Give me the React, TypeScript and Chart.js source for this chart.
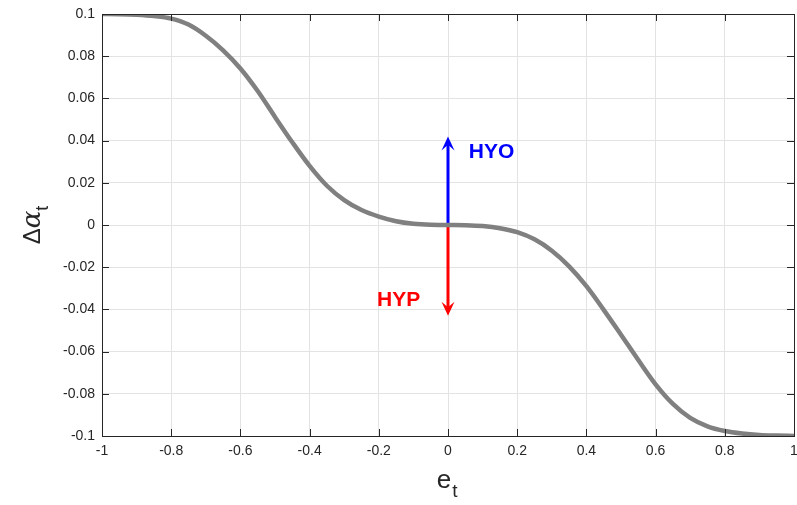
import React, { useEffect, useRef } from "react";
import { Chart, registerables } from "chart.js";

Chart.register(...registerables);

const eValues = [
  -1, -0.95, -0.9, -0.85, -0.8, -0.75, -0.7, -0.65, -0.6, -0.55, -0.5, -0.45, -0.4, -0.35, -0.3, -0.25, -0.2, -0.15, -0.1, -0.05,
  0, 0.05, 0.1, 0.15, 0.2, 0.25, 0.3, 0.35, 0.4, 0.45, 0.5, 0.55, 0.6, 0.65, 0.7, 0.75, 0.8, 0.85, 0.9, 0.95, 1,
];
const deltaAlpha = [
  0.1, 0.0999, 0.0996, 0.099, 0.0978, 0.095, 0.0897, 0.0828, 0.0742, 0.0635, 0.0512, 0.0392, 0.028, 0.0186, 0.0118, 0.0071, 0.004, 0.0018, 0.0006, 0.0001,
  0, -0.0001, -0.0005, -0.0015, -0.0034, -0.0068, -0.0122, -0.0196, -0.029, -0.0402, -0.052, -0.064, -0.0755, -0.0848, -0.0914, -0.0954, -0.0976, -0.0988, -0.0995, -0.0998, -0.1,
];

const xTicks = [-1, -0.8, -0.6, -0.4, -0.2, 0, 0.2, 0.4, 0.6, 0.8, 1];
const xTickLabels = ["-1", "-0.8", "-0.6", "-0.4", "-0.2", "0", "0.2", "0.4", "0.6", "0.8", "1"];
const yTicks = [-0.1, -0.08, -0.06, -0.04, -0.02, 0, 0.02, 0.04, 0.06, 0.08, 0.1];
const yTickLabels = ["-0.1", "-0.08", "-0.06", "-0.04", "-0.02", "0", "0.02", "0.04", "0.06", "0.08", "0.1"];

const hyoArrow = { x: 0, from: 0, to: 0.042 };
const hypArrow = { x: 0, from: 0, to: -0.043 };
const hyoLabel = { text: "HYO", x: 0.06, y: 0.0345 };
const hypLabel = { text: "HYP", x: -0.205, y: -0.0355 };

const TXT = "#262626";
const FONT = "'Liberation Sans', Arial, Helvetica, sans-serif";

function lbl(vals: number[], labels: string[], v: number) {
  const i = vals.findIndex((t) => Math.abs(t - v) < 1e-9);
  return i >= 0 ? labels[i] : "";
}

const decorPlugin = {
  id: "decor",
  afterDatasetsDraw(chart: any) {
    const { ctx, chartArea: a, scales } = chart;
    const xs = scales.x;
    const ys = scales.y;
    ctx.save();
    ctx.strokeStyle = TXT;
    ctx.lineWidth = 1;
    ctx.strokeRect(Math.round(a.left) + 0.5, Math.round(a.top) + 0.5, Math.round(a.right - a.left), Math.round(a.bottom - a.top));
    const tl = 7;
    ctx.beginPath();
    xTicks.forEach((t) => {
      const px = Math.round(xs.getPixelForValue(t)) + 0.5;
      ctx.moveTo(px, a.bottom);
      ctx.lineTo(px, a.bottom - tl);
      ctx.moveTo(px, a.top);
      ctx.lineTo(px, a.top + tl);
    });
    yTicks.forEach((t) => {
      const py = Math.round(ys.getPixelForValue(t)) + 0.5;
      ctx.moveTo(a.left, py);
      ctx.lineTo(a.left + tl, py);
      ctx.moveTo(a.right, py);
      ctx.lineTo(a.right - tl, py);
    });
    ctx.stroke();

    const head = (arrow: any, color: string) => {
      const px = xs.getPixelForValue(arrow.x);
      const tipY = ys.getPixelForValue(arrow.to);
      const dir = arrow.to > arrow.from ? -1 : 1;
      const len = 14;
      const hw = 6.5;
      ctx.fillStyle = color;
      ctx.beginPath();
      ctx.moveTo(px, tipY);
      ctx.lineTo(px - hw, tipY - dir * len);
      ctx.lineTo(px, tipY - dir * len * 0.6);
      ctx.lineTo(px + hw, tipY - dir * len);
      ctx.closePath();
      ctx.fill();
    };
    head(hyoArrow, "#0000ff");
    head(hypArrow, "#ff0000");

    ctx.font = `bold 21px ${FONT}`;
    ctx.textBaseline = "middle";
    ctx.textAlign = "left";
    ctx.fillStyle = "#0000ff";
    ctx.fillText(hyoLabel.text, xs.getPixelForValue(hyoLabel.x), ys.getPixelForValue(hyoLabel.y));
    ctx.fillStyle = "#ff0000";
    ctx.fillText(hypLabel.text, xs.getPixelForValue(hypLabel.x), ys.getPixelForValue(hypLabel.y));

    ctx.fillStyle = TXT;
    ctx.textBaseline = "alphabetic";
    const cx = (a.left + a.right) / 2;
    ctx.font = `26px ${FONT}`;
    ctx.textAlign = "left";
    const eW = ctx.measureText("e").width;
    ctx.fillText("e", cx - eW / 2 - 4, 488);
    ctx.font = `19px ${FONT}`;
    ctx.fillText("t", cx + eW / 2 - 3, 497);

    ctx.save();
    ctx.translate(40, (a.top + a.bottom) / 2);
    ctx.rotate(-Math.PI / 2);
    ctx.font = `24px ${FONT}`;
    const dW = ctx.measureText("Δ").width;
    ctx.font = `italic 26px 'DejaVu Serif', 'Liberation Serif', serif`;
    const aW = ctx.measureText("α").width;
    ctx.font = `18px ${FONT}`;
    const tW = ctx.measureText("t").width;
    const total = dW + aW + tW;
    let x0 = -total / 2;
    ctx.font = `24px ${FONT}`;
    ctx.fillText("Δ", x0, 0);
    x0 += dW;
    ctx.font = `italic 26px 'DejaVu Serif', 'Liberation Serif', serif`;
    ctx.fillText("α", x0, 0);
    x0 += aW;
    ctx.font = `18px ${FONT}`;
    ctx.fillText("t", x0, 8);
    ctx.restore();

    ctx.restore();
  },
};

export default function App() {
  const ref = useRef<HTMLCanvasElement>(null);
  useEffect(() => {
    document.body.style.margin = "0";
    const chart = new Chart(ref.current as HTMLCanvasElement, {
      type: "line",
      data: {
        datasets: [
          {
            data: eValues.map((x, i) => ({ x, y: deltaAlpha[i] })),
            borderColor: "#808080",
            borderWidth: 4.5,
            pointRadius: 0,
            cubicInterpolationMode: "monotone",
          },
          {
            data: [
              { x: hyoArrow.x, y: hyoArrow.from },
              { x: hyoArrow.x, y: hyoArrow.to - 0.004 },
            ],
            borderColor: "#0000ff",
            borderWidth: 3,
            pointRadius: 0,
          },
          {
            data: [
              { x: hypArrow.x, y: hypArrow.from },
              { x: hypArrow.x, y: hypArrow.to + 0.004 },
            ],
            borderColor: "#ff0000",
            borderWidth: 3,
            pointRadius: 0,
          },
        ],
      },
      options: {
        animation: false,
        responsive: false,
        maintainAspectRatio: false,
        layout: { padding: { top: 14, right: 3, left: 0, bottom: 0 } },
        plugins: { legend: { display: false }, tooltip: { enabled: false } },
        scales: {
          x: {
            type: "linear",
            min: -1,
            max: 1,
            afterBuildTicks: (s: any) => {
              s.ticks = xTicks.map((v) => ({ value: v }));
            },
            afterFit: (s: any) => {
              s.height = 69;
              s.paddingLeft = 0;
              s.paddingRight = 0;
            },
            ticks: {
              color: TXT,
              font: { family: FONT, size: 14 },
              padding: 7,
              maxRotation: 0,
              autoSkip: false,
              callback: (v: any) => lbl(xTicks, xTickLabels, Number(v)),
            },
            grid: { color: "#e3e3e3", drawTicks: false, lineWidth: 1 },
            border: { display: false },
          },
          y: {
            type: "linear",
            min: -0.1,
            max: 0.1,
            afterBuildTicks: (s: any) => {
              s.ticks = yTicks.map((v) => ({ value: v }));
            },
            afterFit: (s: any) => {
              s.width = 102;
              s.paddingTop = 0;
              s.paddingBottom = 0;
            },
            ticks: {
              color: TXT,
              font: { family: FONT, size: 14 },
              padding: 7,
              autoSkip: false,
              callback: (v: any) => lbl(yTicks, yTickLabels, Number(v)),
            },
            grid: { color: "#e3e3e3", drawTicks: false, lineWidth: 1 },
            border: { display: false },
          },
        },
      },
      plugins: [decorPlugin],
    } as any);
    return () => chart.destroy();
  }, []);
  return (
    <div style={{ width: 797, height: 505, background: "#fff" }}>
      <canvas ref={ref} width={797} height={505} style={{ display: "block" }} />
    </div>
  );
}
